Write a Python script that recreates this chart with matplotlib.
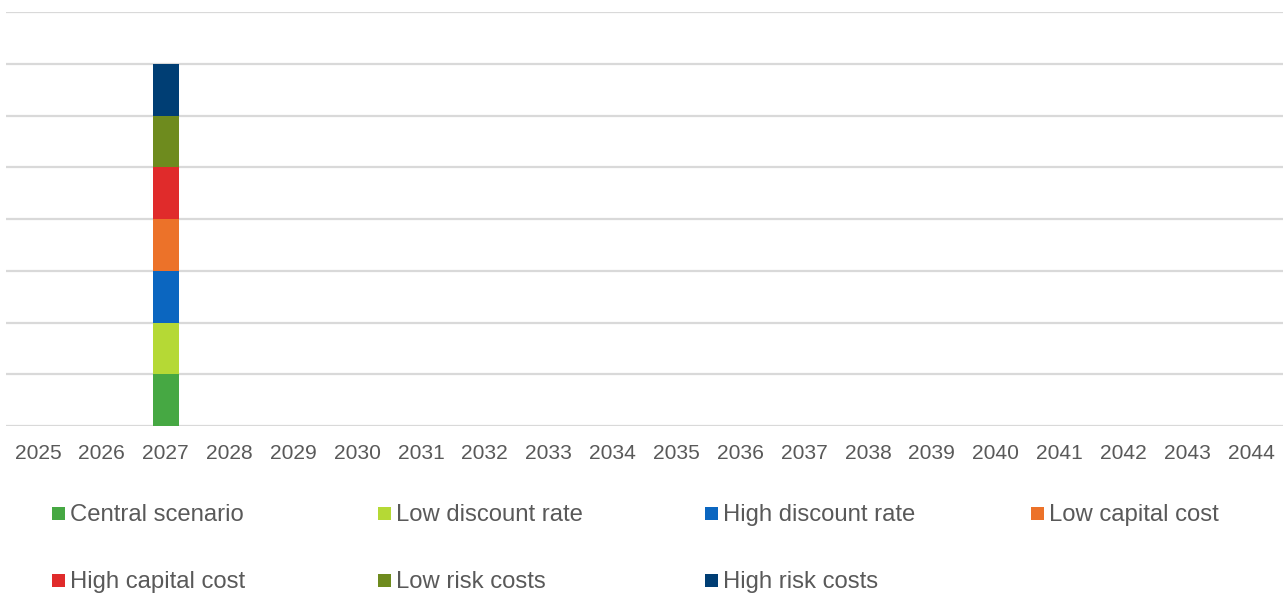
import matplotlib
matplotlib.use("Agg")
import matplotlib.pyplot as plt
from matplotlib.patches import Rectangle
import numpy as np

plt.rcParams['font.family'] = ['Liberation Sans', 'DejaVu Sans']

years = [str(y) for y in range(2025, 2045)]
scenarios = ["Central scenario", "Low discount rate", "High discount rate",
             "Low capital cost", "High capital cost", "Low risk costs",
             "High risk costs"]
colors = ["#46A843", "#B5D935", "#0B66C0", "#EC7229", "#E02B2B",
          "#6E8B1E", "#003E74"]
# one value per scenario per year (only 2027 is non-zero)
central = [0, 0, 1] + [0] * 17
low_discount = [0, 0, 1] + [0] * 17
high_discount = [0, 0, 1] + [0] * 17
low_capital = [0, 0, 1] + [0] * 17
high_capital = [0, 0, 1] + [0] * 17
low_risk = [0, 0, 1] + [0] * 17
high_risk = [0, 0, 1] + [0] * 17
series = [central, low_discount, high_discount, low_capital,
          high_capital, low_risk, high_risk]

W, H = 1283, 594
fig = plt.figure(figsize=(W / 100, H / 100), dpi=100)
ax = fig.add_axes([6 / W, 1 - 426 / H, (W - 6) / W, (426 - 12) / H])

x = np.arange(len(years))
bottom = np.zeros(len(years))
for vals, col in zip(series, colors):
    vals = np.array(vals, dtype=float)
    ax.bar(x, vals, width=0.41, bottom=bottom, color=col, zorder=3)
    bottom += vals

ax.set_xlim(-0.5, len(years) - 0.5)
ax.set_ylim(0, 8)
ax.set_yticks(np.arange(0, 9, 1))
ax.yaxis.grid(True, color="#D9D9D9", linewidth=1.6, zorder=0)
ax.tick_params(axis='y', left=False, labelleft=False)
ax.set_xticks(x)
ax.set_xticklabels(years, fontsize=15.1, color="#595959")
ax.tick_params(axis='x', length=0, pad=13)
for s in ax.spines.values():
    s.set_visible(False)

# legend entries laid out in a 4-column grid
col_x = [52, 378, 705, 1031]
row_y = [513, 580]
for i, (name, col) in enumerate(zip(scenarios, colors)):
    cx = col_x[i % 4]
    cy = row_y[i // 4]
    fig.add_artist(Rectangle((cx / W, 1 - (cy + 6.5) / H), 13 / W, 13 / H,
                             transform=fig.transFigure, color=col,
                             linewidth=0))
    fig.text((cx + 18) / W, 1 - (cy + 8) / H, name, fontsize=17.2,
             color="#595959", va="baseline", ha="left")

fig.savefig("out.png", dpi=100, facecolor="white")
